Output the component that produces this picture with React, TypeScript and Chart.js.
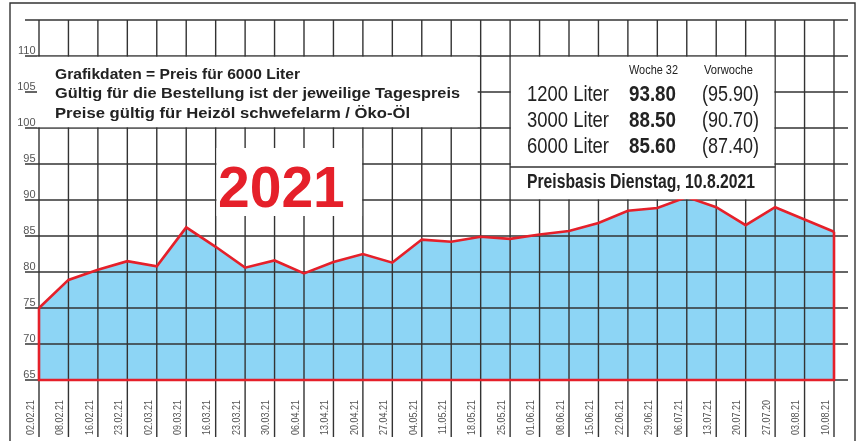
import React, { useEffect, useRef } from "react";
import { Chart, registerables } from "chart.js";

Chart.register(...registerables);

// ---- data ----
const dates = [
  "02.02.21", "08.02.21", "16.02.21", "23.02.21", "02.03.21", "09.03.21", "16.03.21",
  "23.03.21", "30.03.21", "06.04.21", "13.04.21", "20.04.21", "27.04.21", "04.05.21",
  "11.05.21", "18.05.21", "25.05.21", "01.06.21", "08.06.21", "15.06.21", "22.06.21",
  "29.06.21", "06.07.21", "13.07.21", "20.07.21", "27.07.20", "03.08.21", "10.08.21",
];
const prices6000 = [
  75.0, 78.9, 80.3, 81.5, 80.8, 86.2, 83.5,
  80.6, 81.6, 79.8, 81.4, 82.5, 81.3, 84.5,
  84.2, 84.9, 84.6, 85.2, 85.7, 86.8, 88.5,
  88.9, 90.4, 89.0, 86.5, 89.0, 87.3, 85.6,
];
const yMin = 65;
const yMax = 115;
const yGridValues = [65, 70, 75, 80, 85, 90, 95, 100, 105, 110, 115];
const yTickLabels = [65, 70, 75, 80, 85, 90, 95, 100, 105, 110];

const infoLines = [
  "Grafikdaten = Preis für 6000 Liter",
  "Gültig für die Bestellung ist der jeweilige Tagespreis",
  "Preise gültig für Heizöl schwefelarm / Öko-Öl",
];
const yearLabel = "2021";
const tableHeaders = ["Woche 32", "Vorwoche"];
const tableQuantities = ["1200 Liter", "3000 Liter", "6000 Liter"];
const tableCurrent = ["93.80", "88.50", "85.60"];
const tablePrevious = ["(95.90)", "(90.70)", "(87.40)"];
const basisText = "Preisbasis Dienstag, 10.8.2021";

// ---- styles ----
const GRID = "#333333";
const RED = "#e5202a";
const FILL = "#8dd5f5";
const TEXT = "#222222";
const FONT = "'Liberation Sans', Arial, Helvetica, sans-serif";

function fitText(
  ctx: CanvasRenderingContext2D,
  text: string,
  x: number,
  y: number,
  font: string,
  width: number,
  color: string
) {
  ctx.save();
  ctx.font = font;
  ctx.fillStyle = color;
  ctx.textAlign = "left";
  ctx.textBaseline = "alphabetic";
  const w = ctx.measureText(text).width;
  const s = w > 0 ? width / w : 1;
  ctx.translate(x, y);
  ctx.scale(s, 1);
  ctx.fillText(text, 0, 0);
  ctx.restore();
}

const overlayPlugin = {
  id: "overlay",
  beforeDatasetDraw(chart: any, args: any) {
    if (args.index !== 1) return;
    const ctx: CanvasRenderingContext2D = chart.ctx;
    const xs = chart.scales.x;
    const ys = chart.scales.y;
    ctx.save();
    ctx.strokeStyle = GRID;
    ctx.lineWidth = 1.4;
    // outer frame
    ctx.beginPath();
    ctx.moveTo(10, 441);
    ctx.lineTo(10, 3);
    ctx.lineTo(855, 3);
    ctx.lineTo(855, 441);
    ctx.stroke();
    // horizontal grid
    for (const v of yGridValues) {
      const py = ys.getPixelForValue(v);
      ctx.beginPath();
      ctx.moveTo(25, py);
      ctx.lineTo(848, py);
      ctx.stroke();
    }
    // vertical grid
    const top = ys.getPixelForValue(yMax);
    for (let i = 0; i < dates.length; i++) {
      const px = xs.getPixelForValue(i);
      ctx.beginPath();
      ctx.moveTo(px, top);
      ctx.lineTo(px, 437);
      ctx.stroke();
    }
    ctx.restore();
  },
  afterDatasetDraw(chart: any, args: any) {
    if (args.index !== 1) return;
    const ctx: CanvasRenderingContext2D = chart.ctx;
    const xs = chart.scales.x;
    const ys = chart.scales.y;
    const n = prices6000.length - 1;
    const x0 = xs.getPixelForValue(0);
    const xn = xs.getPixelForValue(n);
    const yb = ys.getPixelForValue(yMin);
    ctx.save();
    ctx.strokeStyle = RED;
    ctx.lineWidth = 2.6;
    ctx.lineJoin = "miter";
    ctx.beginPath();
    ctx.moveTo(x0, ys.getPixelForValue(prices6000[0]));
    ctx.lineTo(x0, yb);
    ctx.lineTo(xn, yb);
    ctx.lineTo(xn, ys.getPixelForValue(prices6000[n]));
    ctx.stroke();
    ctx.restore();
  },
  afterDatasetsDraw(chart: any) {
    const ctx: CanvasRenderingContext2D = chart.ctx;
    const xs = chart.scales.x;
    const ys = chart.scales.y;
    const X = (i: number) => xs.getPixelForValue(i);
    const Y = (v: number) => ys.getPixelForValue(v);
    ctx.save();
    ctx.fillStyle = "#ffffff";
    // info box
    ctx.fillRect(X(0) - 2, Y(110) + 0.8, X(15) - 3 - (X(0) - 2), Y(100) - Y(110) - 1.6);
    // table box
    const tl = X(16) + 0.8;
    const tr = X(25) - 0.8;
    ctx.fillRect(tl, Y(110) + 0.8, tr - tl, Y(90) - Y(110) - 1.6);
    // year box
    const yl = X(6) + 0.8;
    const yr = X(11) - 0.8;
    ctx.fillRect(yl, 148, yr - yl, 68);
    // table divider
    ctx.strokeStyle = GRID;
    ctx.lineWidth = 1.4;
    ctx.beginPath();
    ctx.moveTo(X(16), Y(90) - 33);
    ctx.lineTo(X(25), Y(90) - 33);
    ctx.stroke();
    ctx.restore();

    // info text
    const baselines = [78.5, 98, 117.5];
    const widths = [245, 405, 355];
    infoLines.forEach((t, i) =>
      fitText(ctx, t, 55, baselines[i], `bold 15.5px ${FONT}`, widths[i], TEXT)
    );
    // year
    ctx.save();
    ctx.fillStyle = RED;
    ctx.font = `bold 57px ${FONT}`;
    ctx.textAlign = "left";
    ctx.textBaseline = "alphabetic";
    ctx.fillText(yearLabel, 218, 207);
    ctx.restore();

    // table text
    fitText(ctx, tableHeaders[0], 629, 73.5, `12.5px ${FONT}`, 49, TEXT);
    fitText(ctx, tableHeaders[1], 704, 73.5, `12.5px ${FONT}`, 49, TEXT);
    const rowBase = [100.5, 126.5, 152.5];
    tableQuantities.forEach((t, i) => {
      fitText(ctx, t, 527, rowBase[i], `22px ${FONT}`, 82, TEXT);
      fitText(ctx, tableCurrent[i], 629, rowBase[i], `bold 22px ${FONT}`, 47, TEXT);
      fitText(ctx, tablePrevious[i], 702, rowBase[i], `22px ${FONT}`, 57, TEXT);
    });
    fitText(ctx, basisText, 527, 188, `bold 19.5px ${FONT}`, 228, TEXT);

    // y labels
    ctx.save();
    ctx.fillStyle = "#555555";
    ctx.font = `11px ${FONT}`;
    ctx.textAlign = "right";
    ctx.textBaseline = "alphabetic";
    for (const v of yTickLabels) ctx.fillText(String(v), 35.5, Y(v) - 2.5);
    ctx.restore();

    // x labels
    ctx.save();
    ctx.fillStyle = "#555555";
    ctx.font = `10px ${FONT}`;
    ctx.textAlign = "right";
    ctx.textBaseline = "middle";
    for (let i = 0; i < dates.length; i++) {
      ctx.save();
      ctx.translate(X(i) - 8, 400);
      ctx.rotate(-Math.PI / 2);
      ctx.scale(0.9, 1);
      ctx.fillText(dates[i], 0, 0);
      ctx.restore();
    }
    ctx.restore();
  },
};

export default function App() {
  const canvasRef = useRef<HTMLCanvasElement | null>(null);

  useEffect(() => {
    if (!canvasRef.current) return;
    const chart = new Chart(canvasRef.current, {
      type: "line",
      data: {
        labels: dates,
        datasets: [
          {
            label: "Fläche",
            data: prices6000,
            backgroundColor: FILL,
            borderWidth: 0,
            borderColor: "rgba(0,0,0,0)",
            fill: "start",
            pointRadius: 0,
            tension: 0,
            order: 2,
          },
          {
            label: "Preis für 6000 Liter",
            data: prices6000,
            borderColor: RED,
            borderWidth: 2.6,
            fill: false,
            pointRadius: 0,
            tension: 0,
            order: 1,
            clip: 5,
          },
        ],
      },
      options: {
        animation: false,
        responsive: false,
        devicePixelRatio: 1,
        layout: { padding: { left: 39, right: 29, top: 20, bottom: 61 } },
        plugins: {
          legend: { display: false },
          tooltip: { enabled: false },
          title: { display: false },
        },
        scales: {
          x: { type: "category", display: false, offset: false },
          y: { type: "linear", display: false, min: yMin, max: yMax },
        },
      },
      plugins: [overlayPlugin],
    });
    return () => chart.destroy();
  }, []);

  return (
    <div style={{ position: "absolute", left: 0, top: 0, width: 863, height: 441, background: "#fff" }}>
      <canvas ref={canvasRef} width={863} height={441} style={{ display: "block", width: 863, height: 441 }} />
    </div>
  );
}
